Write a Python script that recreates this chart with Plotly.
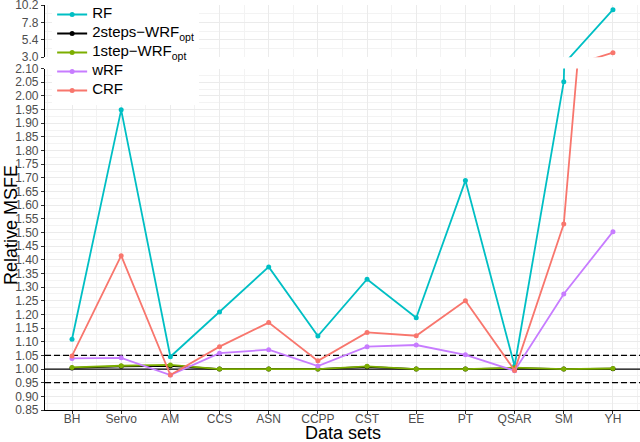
import plotly.graph_objects as go

categories = ["BH", "Servo", "AM", "CCS", "ASN", "CCPP", "CST", "EE", "PT", "QSAR", "SM", "YH"]
series_names = ["RF", "2steps\u2212WRF<sub>opt</sub>", "1step\u2212WRF<sub>opt</sub>", "wRF", "CRF"]
rf = [1.109, 1.949, 1.045, 1.209, 1.374, 1.121, 1.329, 1.188, 1.690, 1.011, 2.052, 9.55]
wrf2 = [1.004, 1.010, 1.012, 1.000, 1.000, 1.000, 1.008, 1.000, 1.000, 1.003, 1.000, 1.001]
wrf1 = [1.006, 1.012, 1.015, 1.000, 1.000, 1.000, 1.010, 1.000, 1.000, 1.005, 1.000, 1.002]
wrf = [1.039, 1.041, 0.978, 1.058, 1.071, 1.011, 1.082, 1.088, 1.052, 0.994, 1.275, 1.503]
crf = [1.048, 1.415, 0.978, 1.082, 1.170, 1.030, 1.134, 1.122, 1.250, 0.995, 1.531, 3.63]
ref_lines = [1.05, 1.00, 0.95]
upper_ticks = [3.0, 5.4, 7.8, 10.2]

colors = ["#00BFC4", "#000000", "#7CAE00", "#C77CFF", "#F8766D"]
values = [rf, wrf2, wrf1, wrf, crf]
xpos = list(range(len(categories)))
xr = [-0.549, 11.55]

FONT = "Liberation Sans, Arial, sans-serif"
fig = go.Figure()

# reference lines (drawn first so the series sit on top)
for v in ref_lines:
    fig.add_trace(go.Scatter(
        x=xr, y=[v, v], mode="lines", showlegend=False, hoverinfo="skip",
        line=dict(color="black", width=1.2, dash="solid" if v == 1.0 else "6px,3px"),
        xaxis="x", yaxis="y",
    ))

for name, col, vals in zip(series_names, colors, values):
    label = f'<span style="font-size:15px">{name}</span>'
    for xa, ya, show in (("x", "y", True), ("x2", "y2", False)):
        fig.add_trace(go.Scatter(
            x=xpos, y=vals, name=label, mode="lines+markers",
            line=dict(color=col, width=1.8),
            marker=dict(color=col, size=5),
            xaxis=xa, yaxis=ya, showlegend=show, legendgroup=name,
        ))

grid = "#EBEBEB"
minor_grid = "#F3F3F3"
tickfont = dict(family=FONT, size=12, color="#4D4D4D")

fig.update_layout(
    width=640, height=442,
    margin=dict(l=45, r=0, t=5, b=32),
    paper_bgcolor="white", plot_bgcolor="white",
    font=dict(family=FONT),
    showlegend=True,
    legend=dict(x=0.012, y=1.0123, xanchor="left", yanchor="top",
                bgcolor="white", font=dict(family=FONT, size=10, color="black"),
                tracegroupgap=0, itemwidth=30),
    xaxis=dict(domain=[0, 1], anchor="y", range=xr, tickmode="array", tickvals=xpos,
               ticktext=categories, showgrid=True, gridcolor=grid, gridwidth=1.1,
               minor=dict(tickmode="linear", tick0=-0.5, dtick=1, showgrid=True,
                          gridcolor=minor_grid, gridwidth=0.8),
               showline=True, linecolor="black", linewidth=1.1,
               ticks="outside", ticklen=3, tickcolor="#333333", tickfont=tickfont,
               ticklabelstandoff=-5,
               zeroline=False, automargin=False),
    xaxis2=dict(domain=[0, 1], anchor="y2", range=xr, matches="x", tickmode="array",
                tickvals=xpos, showticklabels=False, showgrid=True, gridcolor=grid,
                gridwidth=1.1,
                minor=dict(tickmode="linear", tick0=-0.5, dtick=1, showgrid=True,
                           gridcolor=minor_grid, gridwidth=0.8),
                showline=False, ticks="", zeroline=False, automargin=False),
    yaxis=dict(domain=[0, 0.843], anchor="x", range=[0.85, 2.1001], tickmode="linear",
               tick0=0.85, dtick=0.05, tickformat=".2f", showgrid=True, gridcolor=grid,
               gridwidth=1.1,
               minor=dict(tickmode="linear", tick0=0.875, dtick=0.05, showgrid=True,
                          gridcolor=minor_grid, gridwidth=0.8),
               showline=True, linecolor="black", linewidth=1.1, ticks="outside",
               ticklen=3, tickcolor="#333333", tickfont=tickfont, zeroline=False,
               automargin=False),
    yaxis2=dict(domain=[0.871, 1.0], anchor="x2", range=[2.999, 10.201], tickmode="array",
                tickvals=upper_ticks, ticktext=[f"{t:.1f}" for t in upper_ticks],
                showgrid=True, gridcolor=grid, gridwidth=1.1,
                minor=dict(tickmode="linear", tick0=4.2, dtick=2.4, showgrid=True,
                           gridcolor=minor_grid, gridwidth=0.8),
                showline=True, linecolor="black", linewidth=1.1, ticks="outside",
                ticklen=3, tickcolor="#333333", tickfont=tickfont, zeroline=False,
                ticklabeloverflow="allow", automargin=False),
    annotations=[
        dict(text="Relative MSFE", xref="paper", yref="paper", x=-0.058, y=0.458,
             textangle=-90, showarrow=False, xanchor="center", yanchor="middle",
             font=dict(family=FONT, size=18, color="black")),
        dict(text="Data sets", xref="paper", yref="paper", x=0.5, y=-0.057,
             showarrow=False, xanchor="center", yanchor="middle",
             font=dict(family=FONT, size=18, color="black")),
    ],
)

fig.write_html("out.html", config={"displayModeBar": False},
               post_script="document.body.style.margin='0';document.body.style.padding='0';")
